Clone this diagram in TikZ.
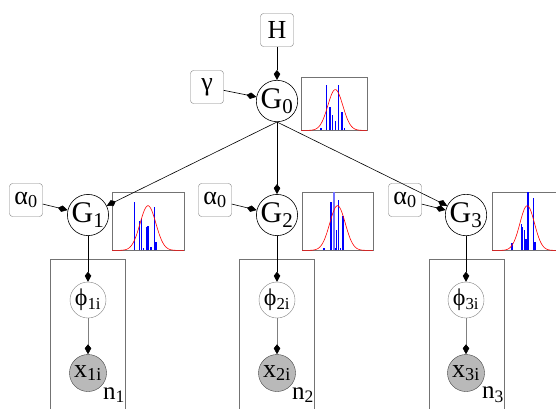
\documentclass[tikz,border=0pt]{standalone}
\usepackage{fontspec}
\setmainfont{Liberation Serif}
\usetikzlibrary{arrows.meta}

\begin{document}
\begin{tikzpicture}[
    x=1pt, y=-1pt,
    param/.style={rectangle, draw=gray, rounded corners=3pt, minimum width=33pt, minimum height=33pt, inner sep=0pt, font=\fontsize{26}{28}\selectfont},
    dist/.style={circle, draw, line width=0.6pt, minimum size=40pt, inner sep=0pt, font=\fontsize{30}{32}\selectfont},
    latent/.style={circle, draw=gray, fill=white, minimum size=36pt, inner sep=0pt, font=\fontsize{24}{26}\selectfont},
    obs/.style={circle, draw=black!75, fill=gray!55, minimum size=37pt, inner sep=0pt, font=\fontsize{26}{28}\selectfont},
    hist/.style={rectangle, draw=gray!90!black, anchor=north west, inner sep=0pt, minimum height=58pt},
    plate/.style={draw=gray!90!black},
    platelabel/.style={font=\fontsize{25}{27}\selectfont},
    bar/.style={blue, line width=1.4pt},
    gauss/.style={red, line width=0.6pt},
    arrow/.style={-{Kite[length=10pt, width=6.5pt, inset=4pt]}, line width=0.6pt},
    greyarrow/.style={-{Kite[length=10pt, width=6.5pt, inset=4pt, color=black]}, line width=0.6pt, gray}
]
\useasboundingbox (0,0) rectangle (556,408);
\clip (0,0) rectangle (556,408);

% === Top level ===
\node[param] (H) at (277,30) {H};
\node[param] (gamma) at (207,87) {γ};
\node[dist] (G0) at (277,101) {G\textsubscript{0}};
\node[hist, minimum width=66pt, minimum height=53pt] (h0) at (301,77) {};

% === Group level ===
\node[dist] (G1) at (88,215) {G\textsubscript{1}};
\node[dist] (G2) at (277,215) {G\textsubscript{2}};
\node[dist] (G3) at (466,215) {G\textsubscript{3}};

\node[param] (a1) at (26,200) {α\textsubscript{0}};
\node[param] (a2) at (215,200) {α\textsubscript{0}};
\node[param] (a3) at (405,200) {α\textsubscript{0}};

\node[hist, minimum width=72pt] (h1) at (112,192) {};
\node[hist, minimum width=71pt] (h2) at (302,192) {};
\node[hist, minimum width=71pt] (h3) at (492,192) {};

% === Plates ===
\draw[plate] (50,410) |- (125,259) -- (125,410);
\draw[plate] (239,410) |- (314,259) -- (314,410);
\draw[plate] (429,410) |- (504,259) -- (504,410);

\node[latent] (phi1) at (88,300) {ϕ\textsubscript{1i}};
\node[latent] (phi2) at (277,300) {ϕ\textsubscript{2i}};
\node[latent] (phi3) at (466,300) {ϕ\textsubscript{3i}};

\node[obs] (x1) at (88,373) {x\textsubscript{1i}};
\node[obs] (x2) at (277,373) {x\textsubscript{2i}};
\node[obs] (x3) at (466,373) {x\textsubscript{3i}};

\node[platelabel] (n1) at (114,395) {n\textsubscript{1}};
\node[platelabel] (n2) at (303,395) {n\textsubscript{2}};
\node[platelabel] (n3) at (493,395) {n\textsubscript{3}};

% === Histograms ===
\begin{scope}[shift={(h0.south west)}, x=66pt, y=53pt]
  \foreach \p/\v in {0.30/0.04, 0.39/0.85, 0.44/0.45, 0.48/0.3, 0.52/0.18, 0.57/0.85, 0.62/0.35, 0.66/0.05}
    \draw[bar] (\p,0) -- (\p,\v);
  \draw[gauss] plot[domain=0:1, samples=80, smooth] (\x, {0.77*exp(-(\x-0.52)*(\x-0.52)/0.026)});
\end{scope}
\begin{scope}[shift={(h1.south west)}, x=72pt, y=58pt]
  \foreach \p/\v in {0.31/0.83, 0.38/0.5, 0.41/0.55, 0.44/0.05, 0.48/0.4, 0.50/0.42, 0.54/0.06, 0.59/0.75, 0.61/0.15}
    \draw[bar] (\p,0) -- (\p,\v);
  \draw[gauss] plot[domain=0:1, samples=80, smooth] (\x, {0.77*exp(-(\x-0.5)*(\x-0.5)/0.024)});
\end{scope}
\begin{scope}[shift={(h2.south west)}, x=71pt, y=58pt]
  \foreach \p/\v in {0.31/0.04, 0.41/0.84, 0.47/0.05, 0.49/0.35, 0.51/0.87, 0.54/0.05, 0.58/0.6}
    \draw[bar] (\p,0) -- (\p,\v);
  \draw[bar, blue!55] (0.45,0) -- (0.45,1);
  \draw[gauss] plot[domain=0:1, samples=80, smooth] (\x, {0.77*exp(-(\x-0.5)*(\x-0.5)/0.024)});
\end{scope}
\begin{scope}[shift={(h3.south west)}, x=64pt, y=58pt]
  \foreach \p/\v in {0.31/0.12, 0.46/0.45, 0.48/0.4, 0.51/0.35, 0.53/0.2, 0.56/1.0, 0.65/0.9, 0.67/0.15}
    \draw[bar] (\p,0) -- (\p,\v);
  \draw[gauss] plot[domain=0:1.2, samples=80, smooth] (\x, {0.77*exp(-(\x-0.55)*(\x-0.55)/0.026)});
\end{scope}

% === Arrows ===
\draw[arrow] (H) -- (G0);
\draw[arrow] (gamma) -- (G0);

\draw[arrow] (G0.south) -- (G1);
\draw[arrow] (G0.south) -- (G2);
\draw[arrow] (G0.south) -- (G3);

\draw[arrow] (a1) -- (G1);
\draw[arrow] (a2) -- (G2);
\draw[arrow] (a3) -- (G3);

\draw[arrow] (G1) -- (phi1);
\draw[arrow] (G2) -- (phi2);
\draw[arrow] (G3) -- (phi3);

\draw[greyarrow] (phi1) -- (x1);
\draw[greyarrow] (phi2) -- (x2);
\draw[greyarrow] (phi3) -- (x3);

\end{tikzpicture}
\end{document}
